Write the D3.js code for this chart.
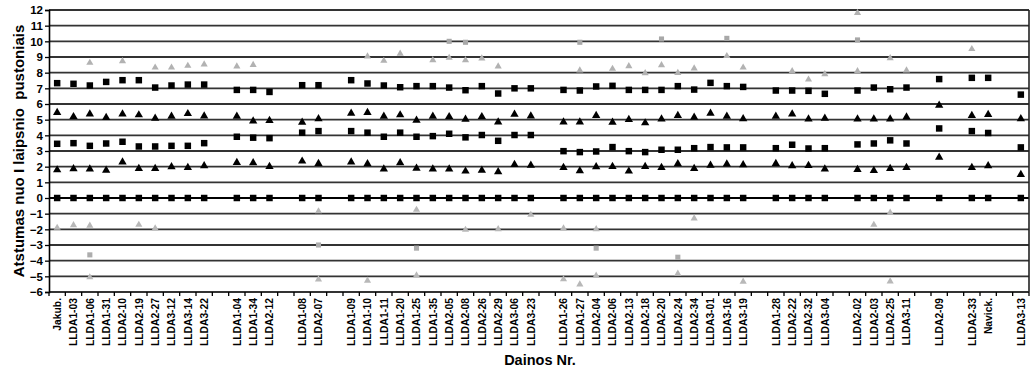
<!DOCTYPE html>
<html>
<head>
<meta charset="utf-8">
<script src="https://cdn.jsdelivr.net/npm/d3@7"></script>
<style>
  body { margin: 0; background: #fff; }
  text { font-family: "Liberation Sans", Arial, sans-serif; font-weight: bold; fill: #000; }
</style>
</head>
<body>
<div id="chart"></div>
<script>
// song groups (gaps are inserted between groups)
const groups = [
  ['Jakub.', 'LLDA1-03', 'LLDA1-06', 'LLDA1-31', 'LLDA2-10', 'LLDA2-19', 'LLDA2-27', 'LLDA3-12', 'LLDA3-14', 'LLDA3-22'],
  ['LLDA1-04', 'LLDA1-34', 'LLDA2-12'],
  ['LLDA1-08', 'LLDA2-07'],
  ['LLDA1-09', 'LLDA1-10', 'LLDA1-11', 'LLDA1-20', 'LLDA1-25', 'LLDA1-35', 'LLDA2-05', 'LLDA2-08', 'LLDA2-26', 'LLDA2-29', 'LLDA3-06', 'LLDA3-23'],
  ['LLDA1-26', 'LLDA1-27', 'LLDA2-04', 'LLDA2-06', 'LLDA2-13', 'LLDA2-18', 'LLDA2-20', 'LLDA2-24', 'LLDA2-34', 'LLDA3-01', 'LLDA3-16', 'LLDA3-19'],
  ['LLDA1-28', 'LLDA2-22', 'LLDA2-32', 'LLDA3-04'],
  ['LLDA2-02', 'LLDA2-03', 'LLDA2-25', 'LLDA3-11'],
  ['LLDA2-09'],
  ['LLDA2-33', 'Navick.'],
  ['LLDA3-13']
];

// black series, one value per song in order
const degree1 = [0, 0, 0, 0, 0, 0, 0, 0, 0, 0,  0, 0, 0,  0, 0,
  0, 0, 0, 0, 0, 0, 0, 0, 0, 0, 0, 0,  0, 0, 0, 0, 0, 0, 0, 0, 0, 0, 0, 0,
  0, 0, 0, 0,  0, 0, 0, 0,  0,  0, 0,  0];
const degree2 = [1.79, 1.86, 1.84, 1.77, 2.29, 1.88, 1.88, 1.99, 1.94, 2.05,  2.26, 2.24, 2.0,  2.35, 2.2,
  2.29, 2.18, 1.84, 2.24, 1.9, 1.84, 1.84, 1.71, 1.77, 1.67, 2.14, 2.09,
  1.94, 1.73, 1.99, 2.0, 1.71, 2.0, 1.94, 2.18, 1.88, 2.09, 2.16, 2.12,
  2.2, 2.05, 2.07, 1.84,  1.82, 1.75, 1.88, 1.94,  2.59,  1.94, 2.05,  1.5];
const degree3 = [3.46, 3.5, 3.33, 3.48, 3.59, 3.29, 3.29, 3.33, 3.33, 3.5,  3.91, 3.85, 3.82,  4.17, 4.27,
  4.27, 4.17, 3.91, 4.17, 3.91, 3.95, 4.1, 3.87, 4.02, 3.65, 4.02, 4.02,
  2.99, 2.93, 2.97, 3.25, 2.99, 2.93, 3.08, 3.08, 3.18, 3.25, 3.23, 3.23,
  3.18, 3.4, 3.16, 3.18,  3.42, 3.48, 3.68, 3.48,  4.44,  4.27, 4.15,  3.23];
const degree4 = [5.45, 5.19, 5.36, 5.13, 5.36, 5.3, 5.09, 5.21, 5.38, 5.23,  5.21, 4.91, 4.94,  4.83, 5.06,
  5.41, 5.45, 5.21, 5.3, 4.96, 5.21, 5.19, 5.02, 5.19, 4.85, 5.34, 5.23,
  4.85, 4.85, 5.26, 4.83, 5.0, 4.79, 5.04, 5.26, 5.15, 5.41, 5.21, 5.06,
  5.21, 5.36, 5.04, 5.09,  5.04, 5.04, 5.04, 5.17,  5.92,  5.26, 5.32,  5.06];
const degree5 = [7.33, 7.29, 7.18, 7.41, 7.52, 7.52, 7.05, 7.18, 7.24, 7.24,  6.9, 6.9, 6.77,  7.2, 7.2,
  7.52, 7.31, 7.18, 7.07, 7.14, 7.14, 7.05, 6.88, 7.14, 6.67, 7.0, 7.0,
  6.9, 6.86, 7.12, 7.16, 6.9, 6.9, 6.9, 7.14, 6.92, 7.35, 7.14, 7.09,
  6.86, 6.86, 6.84, 6.65,  6.86, 7.05, 6.94, 7.05,  7.59,  7.67, 7.67,  6.6];

// gray series, only some songs
const grayTriUpper = [['LLDA1-06', 8.63], ['LLDA2-10', 8.74], ['LLDA2-27', 8.33], ['LLDA3-12', 8.33], ['LLDA3-14', 8.44], ['LLDA3-22', 8.53],
  ['LLDA1-04', 8.4], ['LLDA1-34', 8.5],
  ['LLDA1-10', 9.04], ['LLDA1-11', 8.76], ['LLDA1-20', 9.21], ['LLDA1-35', 8.8], ['LLDA2-05', 8.95], ['LLDA2-08', 8.8], ['LLDA2-26', 8.91], ['LLDA2-29', 8.4],
  ['LLDA1-27', 8.14], ['LLDA2-06', 8.25], ['LLDA2-13', 8.42], ['LLDA2-18', 7.97], ['LLDA2-20', 8.48], ['LLDA2-24', 7.99], ['LLDA2-34', 8.27], ['LLDA3-16', 9.06], ['LLDA3-19', 8.33],
  ['LLDA2-22', 8.1], ['LLDA2-32', 7.56], ['LLDA3-04', 7.91],
  ['LLDA2-02', 8.1], ['LLDA2-25', 8.93], ['LLDA3-11', 8.14],
  ['LLDA2-33', 9.51]];
const graySqUpper = [['LLDA2-05', 10.0], ['LLDA2-08', 9.94], ['LLDA1-27', 9.94], ['LLDA2-20', 10.15], ['LLDA3-16', 10.19], ['LLDA2-02', 10.09]];
const grayTriTop = [['LLDA2-02', 11.82]];
const grayTriLower = [['Jakub.', -1.9], ['LLDA1-03', -1.73], ['LLDA1-06', -1.77], ['LLDA2-19', -1.71], ['LLDA2-27', -1.94],
  ['LLDA2-07', -0.85], ['LLDA1-25', -0.75], ['LLDA2-08', -2.03], ['LLDA2-29', -1.99], ['LLDA3-23', -1.07],
  ['LLDA1-26', -1.94], ['LLDA2-04', -1.99], ['LLDA2-34', -1.3],
  ['LLDA2-03', -1.71], ['LLDA2-25', -0.94]];
const graySqLower = [['LLDA1-06', -3.63], ['LLDA2-07', -3.0], ['LLDA1-25', -3.2], ['LLDA2-04', -3.2], ['LLDA2-24', -3.78]];
const grayTriBottom = [['LLDA1-06', -5.06], ['LLDA2-07', -5.2], ['LLDA1-10', -5.28], ['LLDA1-25', -4.94],
  ['LLDA1-26', -5.19], ['LLDA1-27', -5.51], ['LLDA2-04', -4.96], ['LLDA2-24', -4.83], ['LLDA3-19', -5.34], ['LLDA2-25', -5.32]];

const yTicks = d3.range(-6, 13);

// slots: songs with an empty slot between groups
const slots = [];
groups.forEach((g, gi) => {
  if (gi > 0) slots.push('');
  g.forEach((s) => slots.push(s));
});
const songs = groups.flat();
const slotOf = {};
slots.forEach((s, i) => { if (s) slotOf[s] = i; });

const W = 1031, H = 369;
const plot = { left: 49, right: 1029, top: 10, bottom: 292 };

const svg = d3.select('#chart').append('svg').attr('width', W).attr('height', H);

const x = d3.scaleBand().domain(d3.range(slots.length)).range([plot.left, plot.right]);
const y = d3.scaleLinear().domain([-6, 12]).range([plot.bottom, plot.top]);
const cx = (i) => x(i) + x.bandwidth() / 2;

// grid lines
svg.append('g')
  .selectAll('line')
  .data(yTicks)
  .join('line')
  .attr('x1', plot.left)
  .attr('x2', plot.right)
  .attr('y1', (d) => y(d))
  .attr('y2', (d) => y(d))
  .attr('stroke', (d) => (d === 0 ? '#000' : '#333'))
  .attr('stroke-width', (d) => (d === 0 ? 2.2 : 1.8));

// right border
svg.append('line')
  .attr('x1', plot.right).attr('x2', plot.right)
  .attr('y1', y(12)).attr('y2', y(-6))
  .attr('stroke', '#222').attr('stroke-width', 1.6);

// y axis
const yAxis = svg.append('g')
  .attr('transform', `translate(${plot.left},0)`)
  .call(d3.axisLeft(y).tickValues(yTicks).tickSize(4).tickPadding(2));
yAxis.select('.domain').attr('stroke', '#000').attr('stroke-width', 1.6);
yAxis.selectAll('.tick line').attr('stroke', '#000').attr('stroke-width', 1.3);
yAxis.selectAll('text').style('font-size', '11.5px').attr('font-family', null);

// x axis labels
const xAxis = svg.append('g')
  .attr('transform', `translate(0,${plot.bottom})`)
  .call(d3.axisBottom(x).tickSize(0).tickFormat((i) => slots[i]));
xAxis.select('.domain').remove();
xAxis.selectAll('text')
  .attr('transform', 'rotate(-90)')
  .attr('x', -6)
  .attr('y', 0)
  .attr('dy', '0.36em')
  .attr('font-family', null)
  .style('text-anchor', 'end')
  .style('font-size', '10.3px');

// x ticks at slot boundaries
svg.append('g')
  .selectAll('line')
  .data(d3.range(slots.length + 1))
  .join('line')
  .attr('x1', (i) => (i < slots.length ? x(i) : plot.right))
  .attr('x2', (i) => (i < slots.length ? x(i) : plot.right))
  .attr('y1', plot.bottom)
  .attr('y2', plot.bottom + 4)
  .attr('stroke', '#000')
  .attr('stroke-width', 1.3);

// markers
function dense(values) {
  return songs.map((s, i) => ({ slot: slotOf[s], v: values[i] }));
}
function sparse(pairs) {
  return pairs.map(([s, v]) => ({ slot: slotOf[s], v }));
}
function drawSeries(points, shape, size, color) {
  svg.append('g')
    .selectAll('path')
    .data(points)
    .join('path')
    .attr('d', d3.symbol().type(shape).size(size))
    .attr('transform', (d) => `translate(${cx(d.slot)},${y(d.v)})`)
    .attr('fill', color);
}

drawSeries(sparse(grayTriUpper), d3.symbolTriangle, 22, '#b2b2b2');
drawSeries(sparse(graySqUpper), d3.symbolSquare, 26, '#a8a8a8');
drawSeries(sparse(grayTriTop), d3.symbolTriangle, 22, '#b2b2b2');
drawSeries(sparse(grayTriLower), d3.symbolTriangle, 22, '#b8b8b8');
drawSeries(sparse(graySqLower), d3.symbolSquare, 26, '#adadad');
drawSeries(sparse(grayTriBottom), d3.symbolTriangle, 22, '#b8b8b8');

drawSeries(dense(degree1), d3.symbolSquare, 42, '#000');
drawSeries(dense(degree2), d3.symbolTriangle, 30, '#000');
drawSeries(dense(degree3), d3.symbolSquare, 42, '#000');
drawSeries(dense(degree4), d3.symbolTriangle, 30, '#000');
drawSeries(dense(degree5), d3.symbolSquare, 42, '#000');

// axis titles
svg.append('text')
  .attr('transform', `translate(24,${(plot.top + plot.bottom) / 2}) rotate(-90)`)
  .attr('text-anchor', 'middle')
  .attr('xml:space', 'preserve')
  .style('font-size', '15px')
  .style('white-space', 'pre')
  .text('Atstumas nuo I laipsnio  pustoniais');

svg.append('text')
  .attr('x', 540)
  .attr('y', 365)
  .attr('text-anchor', 'middle')
  .style('font-size', '14.5px')
  .text('Dainos Nr.');
</script>
</body>
</html>
